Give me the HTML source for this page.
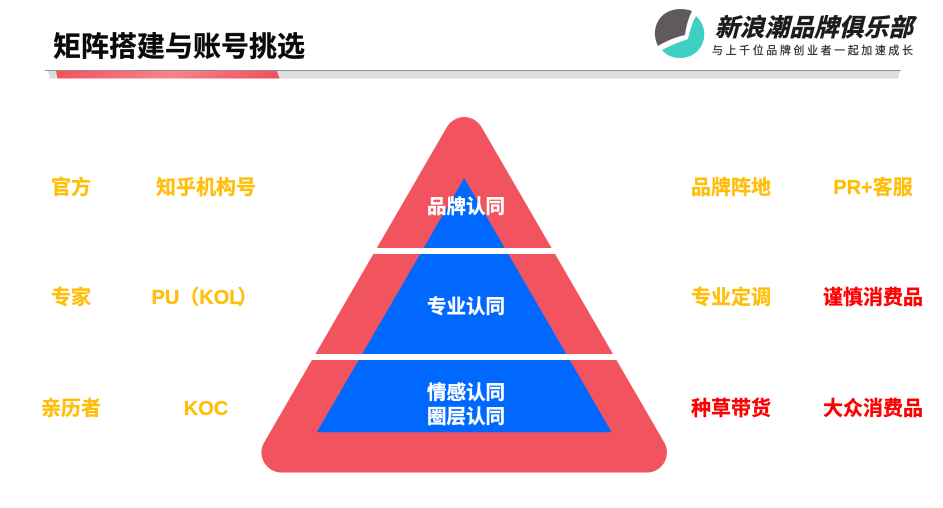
<!DOCTYPE html>
<html><head><meta charset="utf-8">
<style>
html,body{margin:0;padding:0;background:#fff}
svg{display:block}
text{font-family:"Liberation Sans","Noto Sans CJK SC",sans-serif;font-weight:700}
</style></head>
<body>
<svg width="943" height="508" viewBox="0 0 943 508" xmlns="http://www.w3.org/2000/svg">
<defs>
<linearGradient id="g" x1="0" x2="1" y1="0" y2="0.06">
<stop offset="0" stop-color="#f2505c"/><stop offset=".55" stop-color="#f8838b"/><stop offset="1" stop-color="#f2505c"/>
</linearGradient>
</defs>
<rect width="943" height="508" fill="#fff"/>
<!-- header -->
<text x="53" y="56" font-size="28" fill="#0a0a0a" stroke="#0a0a0a" stroke-width=".3" textLength="252" lengthAdjust="spacing">矩阵搭建与账号挑选</text>
<polygon points="48,71 900,71 898,78.5 50,78.5" fill="#dcdddf"/>
<rect x="45" y="70" width="856" height="1" fill="#8f8f8f"/>
<polygon points="56,71 277,71 279.5,78.5 57.5,78.5" fill="url(#g)"/>
<!-- logo -->
<path d="M692,11 C681,7 668,9 661,17 C654,25 653,36 658,46 C666,41 676,37 685,35 C686,27 688,19 692,11Z" fill="#5f5a5c"/>
<path d="M696,16 C704,23 706,34 703,42 C699,53 690,58 680,58 C672,58 666,55 662,50 C671,45 680,42 688,39 C690,31 692,23 696,16Z" fill="#3dcfc2"/>
<text x="715" y="36" font-size="24.5" fill="#1c1c1c" stroke="#1c1c1c" stroke-width=".5" font-style="italic" textLength="198" lengthAdjust="spacing">新浪潮品牌俱乐部</text>
<text x="712" y="54" font-size="11" fill="#2a2a2a" stroke="#2a2a2a" stroke-width=".2" textLength="201" lengthAdjust="spacing" style="font-weight:400">与上千位品牌创业者一起加速成长</text>
<!-- pyramid -->
<path d="M446.9,127 A20,20 0 0 1 481.5,127 L664.3,442.5 A20,20 0 0 1 647,472.5 L281.4,472.5 A20,20 0 0 1 264.1,442.5 Z" fill="#f2545f"/>
<polygon points="464.2,178 611.7,432.3 316.7,432.3" fill="#0068ff"/>
<rect x="300" y="248" width="330" height="6" fill="#fff"/>
<rect x="300" y="354" width="330" height="6" fill="#fff"/>
<g fill="#fff" stroke="#fff" stroke-width=".3" font-size="19.5" text-anchor="middle">
<text x="466" y="213">品牌认同</text>
<text x="466" y="313">专业认同</text>
<text x="466" y="399">情感认同</text>
<text x="466" y="423">圈层认同</text>
</g>
<!-- labels -->
<g fill="#ffbe0a" stroke="#ffbe0a" stroke-width=".3" font-size="20" text-anchor="middle">
<text x="71" y="194">官方</text>
<text x="206" y="194">知乎机构号</text>
<text x="71" y="304">专家</text>
<text x="206" y="415">KOC</text>
<text x="71" y="415">亲历者</text>
<text x="731" y="194">品牌阵地</text>
<text x="873" y="194">PR+客服</text>
<text x="731" y="304">专业定调</text>
</g>
<text x="151.5" y="304" fill="#ffbe0a" stroke="#ffbe0a" stroke-width=".3" font-size="20">PU（KOL<tspan dx="-4">）</tspan></text>
<g fill="#ff0000" stroke="#ff0000" stroke-width=".3" font-size="20" text-anchor="middle">
<text x="873" y="304">谨慎消费品</text>
<text x="731" y="415">种草带货</text>
<text x="873" y="415">大众消费品</text>
</g>
</svg>
</body></html>
